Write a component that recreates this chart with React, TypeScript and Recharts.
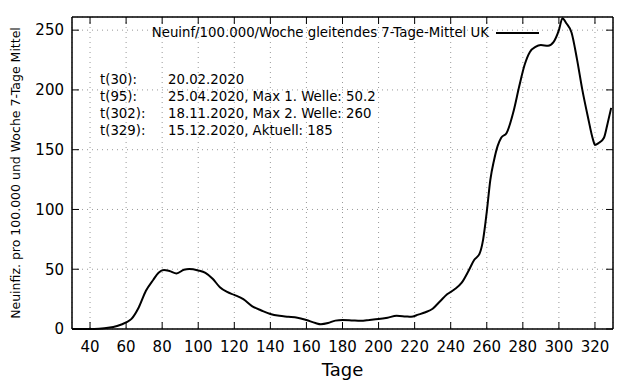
import React from "react"
import {
    LineChart,
    Line,
    XAxis,
    YAxis,
    CartesianGrid,
    ReferenceArea,
    Label,
} from "recharts"

const days = [
    30, 35, 40, 45, 50, 55, 60, 63, 67, 71, 75, 78, 81, 84, 88, 92, 95, 100, 104, 108, 112,
    116, 120, 125, 130, 135, 140, 145, 150, 155, 160, 165, 168, 172, 176, 180, 185, 190, 195, 200, 205,
    210, 215, 218, 222, 226, 230, 234, 238, 242, 246, 250, 253, 256, 258, 260, 262, 264, 266, 268, 271,
    275, 278, 281, 284, 287, 290, 294, 297, 300, 302, 304, 307, 310, 313, 316, 319, 320, 322, 325, 327, 329,
]
const incidence = [
    0, 0, 0, 0.3, 1, 2.5, 5.5, 8.5, 18, 32, 41, 47, 49.3, 48.5, 46.5, 49.5, 50.2, 49, 47, 42, 35,
    31, 28.5, 25, 19, 15.5, 12.5, 11, 10.3, 9.5, 7.5, 5, 4, 5, 7, 7.5, 7.2, 6.8, 7.5, 8.3, 9.5,
    11, 10.5, 10.2, 12, 14, 17, 23, 29, 33, 38.5, 49, 57.7, 63, 75, 98, 125, 141, 153, 160, 164,
    183, 203, 221, 232, 236, 237.5, 237, 240, 250, 260, 256, 248, 226, 200, 178, 158, 154, 155.5, 160, 172, 185,
]
const xTicks = [40, 60, 80, 100, 120, 140, 160, 180, 200, 220, 240, 260, 280, 300, 320]
const yTicks = [0, 50, 100, 150, 200, 250]
const xDomain = [30, 330]
const yDomain = [0, 261]
const notes = [
    ["t(30):", "20.02.2020"],
    ["t(95):", "25.04.2020, Max 1. Welle: 50.2"],
    ["t(302):", "18.11.2020, Max 2. Welle: 260"],
    ["t(329):", "15.12.2020, Aktuell: 185"],
]

const data = days.map((d, i) => ({ day: d, value: incidence[i] }))

const font = "DejaVu Sans"
const tickStyle = { fontSize: 15, fill: "#000", fontFamily: font }
const noLabel = () => ""

export default function App() {
    return (
        <div style={{ position: "absolute", left: 0, top: 0, width: 640, height: 384, background: "#fff", fontFamily: font }}>
            <LineChart width={640} height={384} data={data} margin={{ top: 0, right: 0, left: 0, bottom: 0 }}>
                <CartesianGrid stroke="#999" strokeDasharray="1 4" />
                <XAxis
                    dataKey="day"
                    type="number"
                    domain={xDomain}
                    ticks={xTicks}
                    height={55}
                    tickSize={-7}
                    tickMargin={19}
                    tick={tickStyle}
                    stroke="#000"
                >
                    <Label value="Tage" position="insideBottom" offset={8} style={{ fontSize: 18, fill: "#000", fontFamily: font }} />
                </XAxis>
                <XAxis
                    xAxisId="top"
                    orientation="top"
                    dataKey="day"
                    type="number"
                    domain={xDomain}
                    ticks={xTicks}
                    height={17}
                    tickSize={-7}
                    tickFormatter={noLabel}
                    stroke="#000"
                />
                <YAxis
                    type="number"
                    domain={yDomain}
                    ticks={yTicks}
                    width={72}
                    tickSize={-7}
                    tickMargin={15}
                    tick={tickStyle}
                    stroke="#000"
                >
                    <Label
                        content={(props: any) => {
                            const vb = props.viewBox
                            const cx = vb.x + 15
                            const cy = vb.y + vb.height / 2
                            return (
                                <text
                                    x={cx}
                                    y={cy}
                                    transform={`rotate(-90 ${cx} ${cy})`}
                                    textAnchor="middle"
                                    dominantBaseline="central"
                                    fontSize={12.5}
                                    fontFamily={font}
                                    fill="#000"
                                >
                                    Neuinfiz. pro 100.000 und Woche 7-Tage Mittel
                                </text>
                            )
                        }}
                    />
                </YAxis>
                <YAxis
                    yAxisId="right"
                    orientation="right"
                    type="number"
                    domain={yDomain}
                    ticks={yTicks}
                    width={27}
                    tickSize={-7}
                    tickFormatter={noLabel}
                    stroke="#000"
                />
                {/* plot frame */}
                <ReferenceArea x1={xDomain[0]} x2={xDomain[1]} y1={yDomain[0]} y2={yDomain[1]} fill="none" stroke="#000" strokeWidth={1} />
                {/* invisible copy so the mirrored top/right frame axes get drawn */}
                <Line
                    xAxisId="top"
                    yAxisId="right"
                    dataKey="value"
                    stroke="none"
                    dot={false}
                    activeDot={false}
                    legendType="none"
                    isAnimationActive={false}
                />
                <Line
                    dataKey="value"
                    type="monotone"
                    stroke="#000"
                    strokeWidth={2}
                    dot={false}
                    isAnimationActive={false}
                />
            </LineChart>
            <div style={{ position: "absolute", right: 151, top: 24, fontSize: 13.3, whiteSpace: "nowrap", lineHeight: "18px" }}>
                Neuinf/100.000/Woche gleitendes 7-Tage-Mittel UK
            </div>
            <div style={{ position: "absolute", left: 496, top: 32, width: 43, height: 2, background: "#000" }} />
            {notes.map((n, i) => (
                <div key={i} style={{ position: "absolute", left: 100, top: 71 + i * 17, fontSize: 13.3, lineHeight: "17px", whiteSpace: "nowrap" }}>
                    <span style={{ display: "inline-block", width: 68 }}>{n[0]}</span>
                    <span>{n[1]}</span>
                </div>
            ))}
        </div>
    )
}
